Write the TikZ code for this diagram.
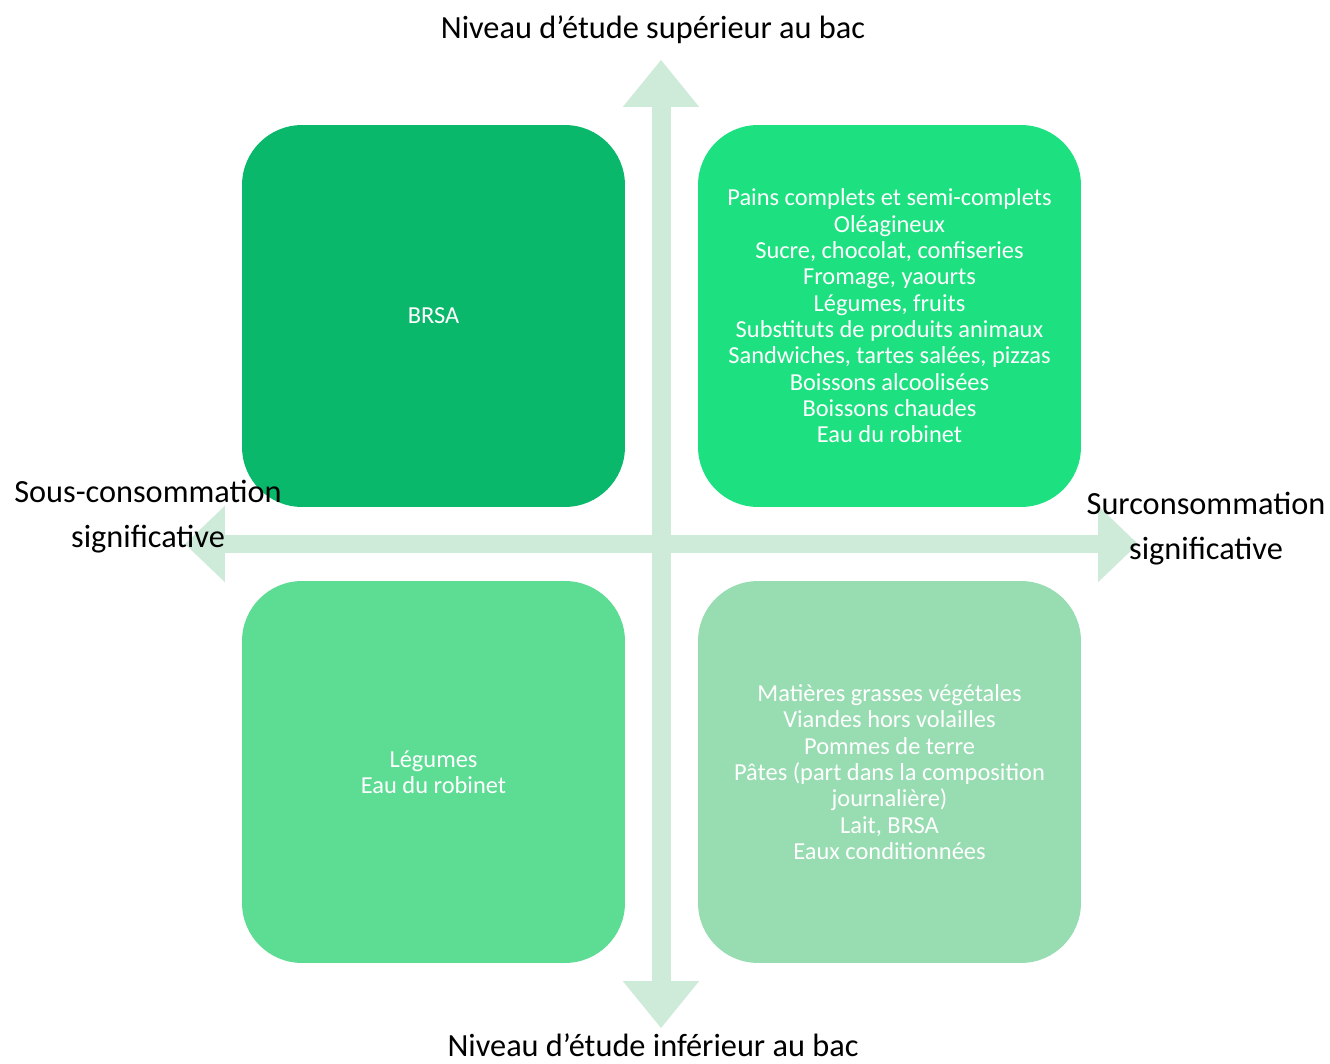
\documentclass[tikz,border=0pt]{standalone}
\usepackage{fontspec}
\setmainfont{Carlito}
\usetikzlibrary{arrows.meta}
\definecolor{quaddark}{RGB}{10,184,108}
\definecolor{quadbright}{RGB}{29,225,128}
\definecolor{quadmid}{RGB}{93,220,148}
\definecolor{quadpale}{RGB}{152,220,178}
\definecolor{axisgreen}{RGB}{205,235,216}
\tikzset{
  quad/.style={rounded corners=1.2cm, minimum width=7.66cm, minimum height=7.64cm,
    inner sep=0pt, text=white, align=center, font=\fontsize{13.9}{15}\selectfont},
  axislabel/.style={align=center, font=\fontsize{18.4}{25.6}\selectfont},
  axisline/.style={draw=axisgreen, line width=0.38cm,
    {Triangle[length=#1,width=1.53cm,line width=0pt]}-{Triangle[length=#1,width=1.53cm,line width=0pt]}}
}
\begin{document}
\begin{tikzpicture}[x=0.02cm,y=-0.02cm]
  \useasboundingbox (0,0) rectangle (1330,1064);
  % axes
  \coordinate (ytop) at (661,60);
  \coordinate (ybot) at (661,1028);
  \coordinate (xleft) at (185,544);
  \coordinate (xright) at (1138,544);
  \draw[axisline=0.94cm] (ytop) -- (ybot);
  \draw[axisline=0.8cm] (xleft) -- (xright);
  % quadrants
  \node[quad, fill=quaddark] (hautgauche) at (433.5,316) {BRSA};
  \node[quad, fill=quadbright] (hautdroite) at (889.5,316) {Pains complets et semi-complets\\Oléagineux\\Sucre, chocolat, confiseries\\Fromage, yaourts\\Légumes, fruits\\Substituts de produits animaux\\Sandwiches, tartes salées, pizzas\\Boissons alcoolisées\\Boissons chaudes\\Eau du robinet};
  \node[quad, fill=quadmid] (basgauche) at (433.5,772) {Légumes\\Eau du robinet};
  \node[quad, fill=quadpale] (basdroite) at (889.5,772) {Matières grasses végétales\\Viandes hors volailles\\Pommes de terre\\Pâtes (part dans la composition\\journalière)\\Lait, BRSA\\Eaux conditionnées};
  % axis labels
  \node[axislabel] (haut) at (653,30) {Niveau d’étude supérieur au bac};
  \node[axislabel] (bas) at (653,1045) {Niveau d’étude inférieur au bac};
  \node[axislabel] (gauche) at (148,517) {Sous-consommation\\significative};
  \node[axislabel] (droite) at (1206,529) {Surconsommation\\significative};
\end{tikzpicture}
\end{document}
